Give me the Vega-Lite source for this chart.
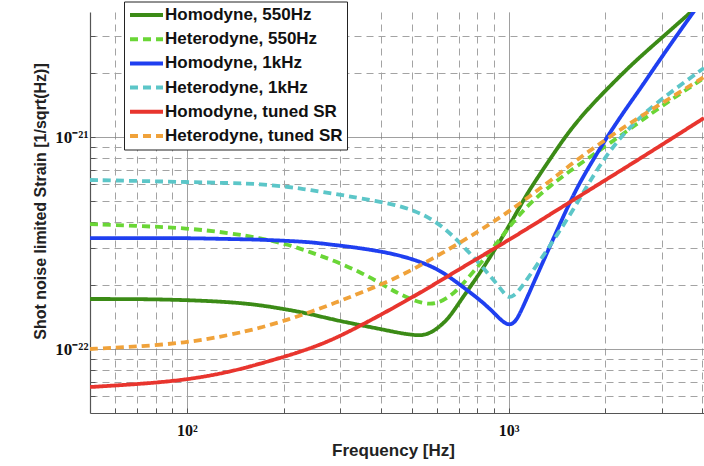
{
  "$schema": "https://vega.github.io/schema/vega-lite/v6.json",
  "width": 614,
  "height": 401,
  "autosize": {"type": "none"},
  "padding": {"left": 90, "top": 12, "right": 0, "bottom": 53},
  "background": "white",
  "config": {"view": {"stroke": null}},
  "data": {
    "values": [
      {"series": "Homodyne, 550Hz", "freq": 50, "strain": 1.725e-22},
      {"series": "Homodyne, 550Hz", "freq": 71.5, "strain": 1.725e-22},
      {"series": "Homodyne, 550Hz", "freq": 99.4, "strain": 1.707e-22},
      {"series": "Homodyne, 550Hz", "freq": 136.2, "strain": 1.67e-22},
      {"series": "Homodyne, 550Hz", "freq": 168.8, "strain": 1.616e-22},
      {"series": "Homodyne, 550Hz", "freq": 209.3, "strain": 1.531e-22},
      {"series": "Homodyne, 550Hz", "freq": 241.5, "strain": 1.466e-22},
      {"series": "Homodyne, 550Hz", "freq": 288.8, "strain": 1.374e-22},
      {"series": "Homodyne, 550Hz", "freq": 345.3, "strain": 1.3e-22},
      {"series": "Homodyne, 550Hz", "freq": 413.1, "strain": 1.232e-22},
      {"series": "Homodyne, 550Hz", "freq": 459.8, "strain": 1.192e-22},
      {"series": "Homodyne, 550Hz", "freq": 504.7, "strain": 1.167e-22},
      {"series": "Homodyne, 550Hz", "freq": 538.3, "strain": 1.16e-22},
      {"series": "Homodyne, 550Hz", "freq": 570.0, "strain": 1.192e-22},
      {"series": "Homodyne, 550Hz", "freq": 603.5, "strain": 1.259e-22},
      {"series": "Homodyne, 550Hz", "freq": 643.6, "strain": 1.374e-22},
      {"series": "Homodyne, 550Hz", "freq": 681.5, "strain": 1.547e-22},
      {"series": "Homodyne, 550Hz", "freq": 721.7, "strain": 1.763e-22},
      {"series": "Homodyne, 550Hz", "freq": 815.2, "strain": 2.288e-22},
      {"series": "Homodyne, 550Hz", "freq": 920.7, "strain": 3.067e-22},
      {"series": "Homodyne, 550Hz", "freq": 1032.4, "strain": 4.113e-22},
      {"series": "Homodyne, 550Hz", "freq": 1109.0, "strain": 5.003e-22},
      {"series": "Homodyne, 550Hz", "freq": 1166.0, "strain": 5.7e-22},
      {"series": "Homodyne, 550Hz", "freq": 1345.5, "strain": 7.896e-22},
      {"series": "Homodyne, 550Hz", "freq": 1519.6, "strain": 1.036e-21},
      {"series": "Homodyne, 550Hz", "freq": 1728.6, "strain": 1.316e-21},
      {"series": "Homodyne, 550Hz", "freq": 1994.6, "strain": 1.653e-21},
      {"series": "Homodyne, 550Hz", "freq": 2385.5, "strain": 2.169e-21},
      {"series": "Homodyne, 550Hz", "freq": 2752.8, "strain": 2.638e-21},
      {"series": "Homodyne, 550Hz", "freq": 3664.5, "strain": 3.858e-21},
      {"series": "Homodyne, 550Hz", "freq": 4228, "strain": 4.691e-21},

      {"series": "Heterodyne, 550Hz", "freq": 50, "strain": 3.896e-22},
      {"series": "Heterodyne, 550Hz", "freq": 71.5, "strain": 3.812e-22},
      {"series": "Heterodyne, 550Hz", "freq": 99.4, "strain": 3.73e-22},
      {"series": "Heterodyne, 550Hz", "freq": 136.2, "strain": 3.533e-22},
      {"series": "Heterodyne, 550Hz", "freq": 168.8, "strain": 3.346e-22},
      {"series": "Heterodyne, 550Hz", "freq": 209.3, "strain": 3.101e-22},
      {"series": "Heterodyne, 550Hz", "freq": 241.5, "strain": 2.874e-22},
      {"series": "Heterodyne, 550Hz", "freq": 288.8, "strain": 2.607e-22},
      {"series": "Heterodyne, 550Hz", "freq": 345.3, "strain": 2.313e-22},
      {"series": "Heterodyne, 550Hz", "freq": 398.6, "strain": 2.053e-22},
      {"series": "Heterodyne, 550Hz", "freq": 450.1, "strain": 1.841e-22},
      {"series": "Heterodyne, 550Hz", "freq": 504.7, "strain": 1.707e-22},
      {"series": "Heterodyne, 550Hz", "freq": 538.3, "strain": 1.652e-22},
      {"series": "Heterodyne, 550Hz", "freq": 570.0, "strain": 1.634e-22},
      {"series": "Heterodyne, 550Hz", "freq": 603.5, "strain": 1.652e-22},
      {"series": "Heterodyne, 550Hz", "freq": 643.6, "strain": 1.744e-22},
      {"series": "Heterodyne, 550Hz", "freq": 681.5, "strain": 1.861e-22},
      {"series": "Heterodyne, 550Hz", "freq": 721.7, "strain": 2.03e-22},
      {"series": "Heterodyne, 550Hz", "freq": 815.2, "strain": 2.523e-22},
      {"series": "Heterodyne, 550Hz", "freq": 920.7, "strain": 3.169e-22},
      {"series": "Heterodyne, 550Hz", "freq": 1032.4, "strain": 3.981e-22},
      {"series": "Heterodyne, 550Hz", "freq": 1166.0, "strain": 4.895e-22},
      {"series": "Heterodyne, 550Hz", "freq": 1345.5, "strain": 5.889e-22},
      {"series": "Heterodyne, 550Hz", "freq": 1519.6, "strain": 6.783e-22},
      {"series": "Heterodyne, 550Hz", "freq": 1924.5, "strain": 8.708e-22},
      {"series": "Heterodyne, 550Hz", "freq": 2385.5, "strain": 1.094e-21},
      {"series": "Heterodyne, 550Hz", "freq": 2957.0, "strain": 1.389e-21},
      {"series": "Heterodyne, 550Hz", "freq": 4050, "strain": 1.904e-21},

      {"series": "Homodyne, 1kHz", "freq": 50, "strain": 3.346e-22},
      {"series": "Homodyne, 1kHz", "freq": 71.5, "strain": 3.346e-22},
      {"series": "Homodyne, 1kHz", "freq": 99.4, "strain": 3.346e-22},
      {"series": "Homodyne, 1kHz", "freq": 136.2, "strain": 3.309e-22},
      {"series": "Homodyne, 1kHz", "freq": 168.8, "strain": 3.291e-22},
      {"series": "Homodyne, 1kHz", "freq": 209.3, "strain": 3.238e-22},
      {"series": "Homodyne, 1kHz", "freq": 241.5, "strain": 3.203e-22},
      {"series": "Homodyne, 1kHz", "freq": 288.8, "strain": 3.101e-22},
      {"series": "Homodyne, 1kHz", "freq": 345.3, "strain": 3.001e-22},
      {"series": "Homodyne, 1kHz", "freq": 450.1, "strain": 2.812e-22},
      {"series": "Homodyne, 1kHz", "freq": 570.0, "strain": 2.496e-22},
      {"series": "Homodyne, 1kHz", "freq": 643.6, "strain": 2.239e-22},
      {"series": "Homodyne, 1kHz", "freq": 721.7, "strain": 1.965e-22},
      {"series": "Homodyne, 1kHz", "freq": 815.2, "strain": 1.707e-22},
      {"series": "Homodyne, 1kHz", "freq": 875.7, "strain": 1.547e-22},
      {"series": "Homodyne, 1kHz", "freq": 920.7, "strain": 1.434e-22},
      {"series": "Homodyne, 1kHz", "freq": 954.2, "strain": 1.359e-22},
      {"series": "Homodyne, 1kHz", "freq": 996.1, "strain": 1.3e-22},
      {"series": "Homodyne, 1kHz", "freq": 1032.4, "strain": 1.32e-22},
      {"series": "Homodyne, 1kHz", "freq": 1062.4, "strain": 1.388e-22},
      {"series": "Homodyne, 1kHz", "freq": 1101.1, "strain": 1.547e-22},
      {"series": "Homodyne, 1kHz", "freq": 1166.0, "strain": 1.881e-22},
      {"series": "Homodyne, 1kHz", "freq": 1345.5, "strain": 3.067e-22},
      {"series": "Homodyne, 1kHz", "freq": 1519.6, "strain": 4.637e-22},
      {"series": "Homodyne, 1kHz", "freq": 1667.8, "strain": 6.151e-22},
      {"series": "Homodyne, 1kHz", "freq": 1830.4, "strain": 7.811e-22},
      {"series": "Homodyne, 1kHz", "freq": 2023.4, "strain": 1.003e-21},
      {"series": "Homodyne, 1kHz", "freq": 2301.6, "strain": 1.345e-21},
      {"series": "Homodyne, 1kHz", "freq": 2562.6, "strain": 1.689e-21},
      {"series": "Homodyne, 1kHz", "freq": 3064.9, "strain": 2.526e-21},
      {"series": "Homodyne, 1kHz", "freq": 3717.4, "strain": 3.816e-21},
      {"series": "Homodyne, 1kHz", "freq": 3936.4, "strain": 4.301e-21},

      {"series": "Heterodyne, 1kHz", "freq": 50, "strain": 6.286e-22},
      {"series": "Heterodyne, 1kHz", "freq": 71.5, "strain": 6.218e-22},
      {"series": "Heterodyne, 1kHz", "freq": 99.4, "strain": 6.151e-22},
      {"series": "Heterodyne, 1kHz", "freq": 136.2, "strain": 6.084e-22},
      {"series": "Heterodyne, 1kHz", "freq": 168.8, "strain": 6.019e-22},
      {"series": "Heterodyne, 1kHz", "freq": 209.3, "strain": 5.825e-22},
      {"series": "Heterodyne, 1kHz", "freq": 241.5, "strain": 5.638e-22},
      {"series": "Heterodyne, 1kHz", "freq": 288.8, "strain": 5.398e-22},
      {"series": "Heterodyne, 1kHz", "freq": 345.3, "strain": 5.169e-22},
      {"series": "Heterodyne, 1kHz", "freq": 450.1, "strain": 4.79e-22},
      {"series": "Heterodyne, 1kHz", "freq": 512.0, "strain": 4.488e-22},
      {"series": "Heterodyne, 1kHz", "freq": 570.0, "strain": 4.158e-22},
      {"series": "Heterodyne, 1kHz", "freq": 643.6, "strain": 3.65e-22},
      {"series": "Heterodyne, 1kHz", "freq": 721.7, "strain": 3.067e-22},
      {"series": "Heterodyne, 1kHz", "freq": 815.2, "strain": 2.523e-22},
      {"series": "Heterodyne, 1kHz", "freq": 875.7, "strain": 2.215e-22},
      {"series": "Heterodyne, 1kHz", "freq": 920.7, "strain": 2.03e-22},
      {"series": "Heterodyne, 1kHz", "freq": 961.1, "strain": 1.861e-22},
      {"series": "Heterodyne, 1kHz", "freq": 996.1, "strain": 1.745e-22},
      {"series": "Heterodyne, 1kHz", "freq": 1039.8, "strain": 1.785e-22},
      {"series": "Heterodyne, 1kHz", "freq": 1077.9, "strain": 1.902e-22},
      {"series": "Heterodyne, 1kHz", "freq": 1109.0, "strain": 2.008e-22},
      {"series": "Heterodyne, 1kHz", "freq": 1166.0, "strain": 2.239e-22},
      {"series": "Heterodyne, 1kHz", "freq": 1298.2, "strain": 2.843e-22},
      {"series": "Heterodyne, 1kHz", "freq": 1414.6, "strain": 3.457e-22},
      {"series": "Heterodyne, 1kHz", "freq": 1586.3, "strain": 4.537e-22},
      {"series": "Heterodyne, 1kHz", "freq": 1753.5, "strain": 5.889e-22},
      {"series": "Heterodyne, 1kHz", "freq": 1924.5, "strain": 7.398e-22},
      {"series": "Heterodyne, 1kHz", "freq": 2173.5, "strain": 9.602e-22},
      {"series": "Heterodyne, 1kHz", "freq": 2562.6, "strain": 1.247e-21},
      {"series": "Heterodyne, 1kHz", "freq": 2957.0, "strain": 1.499e-21},
      {"series": "Heterodyne, 1kHz", "freq": 4050, "strain": 2.123e-21},

      {"series": "Homodyne, tuned SR", "freq": 50, "strain": 6.63e-23},
      {"series": "Homodyne, tuned SR", "freq": 71.5, "strain": 6.85e-23},
      {"series": "Homodyne, tuned SR", "freq": 99.4, "strain": 7.16e-23},
      {"series": "Homodyne, tuned SR", "freq": 136.2, "strain": 7.8e-23},
      {"series": "Homodyne, tuned SR", "freq": 181.3, "strain": 8.8e-23},
      {"series": "Homodyne, tuned SR", "freq": 224.7, "strain": 9.7e-23},
      {"series": "Homodyne, tuned SR", "freq": 278.7, "strain": 1.093e-22},
      {"series": "Homodyne, tuned SR", "freq": 345.3, "strain": 1.287e-22},
      {"series": "Homodyne, tuned SR", "freq": 450.1, "strain": 1.599e-22},
      {"series": "Homodyne, tuned SR", "freq": 570.0, "strain": 1.965e-22},
      {"series": "Homodyne, tuned SR", "freq": 721.7, "strain": 2.442e-22},
      {"series": "Homodyne, tuned SR", "freq": 920.7, "strain": 3.034e-22},
      {"series": "Homodyne, tuned SR", "freq": 1166.0, "strain": 3.771e-22},
      {"series": "Homodyne, tuned SR", "freq": 1552.6, "strain": 4.949e-22},
      {"series": "Homodyne, tuned SR", "freq": 2220.7, "strain": 6.932e-22},
      {"series": "Homodyne, tuned SR", "freq": 2957.0, "strain": 9.095e-22},
      {"series": "Homodyne, tuned SR", "freq": 4050, "strain": 1.233e-21},

      {"series": "Heterodyne, tuned SR", "freq": 50, "strain": 1.002e-22},
      {"series": "Heterodyne, tuned SR", "freq": 66.6, "strain": 1.024e-22},
      {"series": "Heterodyne, tuned SR", "freq": 99.4, "strain": 1.07e-22},
      {"series": "Heterodyne, tuned SR", "freq": 136.2, "strain": 1.167e-22},
      {"series": "Heterodyne, tuned SR", "freq": 168.8, "strain": 1.259e-22},
      {"series": "Heterodyne, tuned SR", "freq": 209.3, "strain": 1.388e-22},
      {"series": "Heterodyne, tuned SR", "freq": 241.5, "strain": 1.498e-22},
      {"series": "Heterodyne, tuned SR", "freq": 288.8, "strain": 1.652e-22},
      {"series": "Heterodyne, tuned SR", "freq": 345.3, "strain": 1.841e-22},
      {"series": "Heterodyne, tuned SR", "freq": 450.1, "strain": 2.168e-22},
      {"series": "Heterodyne, tuned SR", "freq": 570.0, "strain": 2.635e-22},
      {"series": "Heterodyne, tuned SR", "freq": 721.7, "strain": 3.238e-22},
      {"series": "Heterodyne, tuned SR", "freq": 875.7, "strain": 3.896e-22},
      {"series": "Heterodyne, tuned SR", "freq": 996.1, "strain": 4.439e-22},
      {"series": "Heterodyne, tuned SR", "freq": 1166.0, "strain": 5.282e-22},
      {"series": "Heterodyne, tuned SR", "freq": 1345.5, "strain": 6.218e-22},
      {"series": "Heterodyne, tuned SR", "freq": 1609.2, "strain": 7.727e-22},
      {"series": "Heterodyne, tuned SR", "freq": 1924.5, "strain": 9.345e-22},
      {"series": "Heterodyne, tuned SR", "freq": 2385.5, "strain": 1.168e-21},
      {"series": "Heterodyne, tuned SR", "freq": 3109.0, "strain": 1.499e-21},
      {"series": "Heterodyne, tuned SR", "freq": 4050, "strain": 1.925e-21}
    ]
  },
  "mark": {"type": "line", "strokeWidth": 3.8, "clip": true, "interpolate": "basis"},
  "encoding": {
    "x": {
      "field": "freq",
      "type": "quantitative",
      "scale": {"type": "log", "domain": [50, 4050], "nice": false},
      "axis": {
        "values": [60, 70, 80, 90, 100, 200, 300, 400, 500, 600, 700, 800, 900, 1000, 2000, 3000, 4000],
        "labelExpr": "datum.value == 100 ? '10²' : datum.value == 1000 ? '10³' : ''",
        "labelOverlap": false,
        "labelFlush": false,
        "labelFont": "Liberation Serif",
        "labelFontSize": 16,
        "labelFontWeight": "bold",
        "labelColor": "#111",
        "labelPadding": 14,
        "ticks": true,
        "tickSize": -5,
        "tickColor": "#555",
        "tickWidth": 1,
        "domain": true,
        "domainColor": "#555",
        "domainWidth": 1.2,
        "grid": true,
        "gridWidth": 1,
        "gridColor": {"condition": {"test": "datum.value == 100 || datum.value == 1000", "value": "#808080"}, "value": "#a3a3a3"},
        "gridDash": {"condition": {"test": "datum.value == 100 || datum.value == 1000", "value": [1, 0]}, "value": [7, 5]},
        "title": "Frequency [Hz]",
        "titleFont": "Liberation Sans",
        "titleFontSize": 17,
        "titleFontWeight": "bold",
        "titleColor": "#222",
        "titleX": 303,
        "titleY": 42,
        "titleAlign": "center",
        "titleBaseline": "alphabetic"
      }
    },
    "y": {
      "field": "strain",
      "type": "quantitative",
      "scale": {"type": "log", "domain": [5e-23, 3.9e-21], "nice": false},
      "axis": {
        "values": [6e-23, 7e-23, 8e-23, 9e-23, 1e-22, 2e-22, 3e-22, 4e-22, 5e-22, 6e-22, 7e-22, 8e-22, 9e-22, 1e-21, 2e-21, 3e-21],
        "labelExpr": "datum.value == 1e-22 ? '10⁻²²' : datum.value == 1e-21 ? '10⁻²¹' : ''",
        "labelOverlap": false,
        "labelFlush": false,
        "labelFont": "Liberation Serif",
        "labelFontSize": 17,
        "labelFontWeight": "bold",
        "labelColor": "#111",
        "labelPadding": 7,
        "ticks": true,
        "tickSize": -5,
        "tickColor": "#555",
        "tickWidth": 1,
        "domain": true,
        "domainColor": "#555",
        "domainWidth": 1.2,
        "grid": true,
        "gridWidth": 1,
        "gridColor": {"condition": {"test": "datum.value == 1e-22 || datum.value == 1e-21", "value": "#808080"}, "value": "#a3a3a3"},
        "gridDash": {"condition": {"test": "datum.value == 1e-22 || datum.value == 1e-21", "value": [1, 0]}, "value": [7, 5]},
        "title": "Shot noise limited Strain [1/sqrt(Hz)]",
        "titleFont": "Liberation Sans",
        "titleFontSize": 16,
        "titleFontWeight": "bold",
        "titleColor": "#222",
        "titleAngle": -90,
        "titleX": -45,
        "titleY": 189,
        "titleAlign": "center",
        "titleBaseline": "alphabetic"
      }
    },
    "color": {
      "field": "series",
      "type": "nominal",
      "scale": {
        "domain": ["Homodyne, 550Hz", "Heterodyne, 550Hz", "Homodyne, 1kHz", "Heterodyne, 1kHz", "Homodyne, tuned SR", "Heterodyne, tuned SR"],
        "range": ["#3b8b16", "#6ad636", "#1f3ff0", "#5cc6c8", "#e8352e", "#f0a23a"]
      },
      "legend": {
        "orient": "none", "legendX": 34, "legendY": -10.5, "title": null,
        "symbolType": "stroke", "symbolSize": 1089, "symbolStrokeWidth": 4,
        "clipHeight": 19, "rowPadding": 5.2, "padding": 4,
        "labelFont": "Liberation Sans", "labelFontSize": 17, "labelFontWeight": "bold",
        "labelColor": "#111", "labelOffset": 0, "labelLimit": 300,
        "strokeColor": "#222", "fillColor": "white", "cornerRadius": 0
      }
    },
    "strokeDash": {
      "field": "series",
      "type": "nominal",
      "scale": {
        "domain": ["Homodyne, 550Hz", "Heterodyne, 550Hz", "Homodyne, 1kHz", "Heterodyne, 1kHz", "Homodyne, tuned SR", "Heterodyne, tuned SR"],
        "range": [[1, 0], [8, 5], [1, 0], [8, 5], [1, 0], [8, 5]]
      },
      "legend": {
        "orient": "none", "legendX": 34, "legendY": -10.5, "title": null,
        "symbolType": "stroke", "symbolSize": 1089, "symbolStrokeWidth": 4,
        "clipHeight": 19, "rowPadding": 5.2, "padding": 4,
        "labelFont": "Liberation Sans", "labelFontSize": 17, "labelFontWeight": "bold",
        "labelColor": "#111", "labelOffset": 0, "labelLimit": 300,
        "strokeColor": "#222", "fillColor": "white", "cornerRadius": 0
      }
    }
  }
}
